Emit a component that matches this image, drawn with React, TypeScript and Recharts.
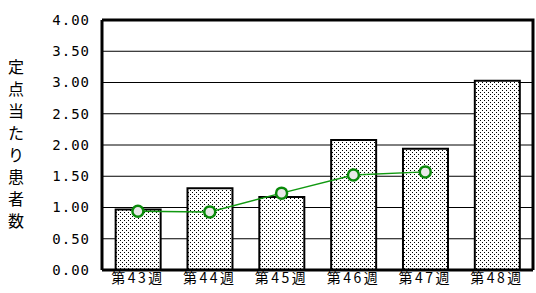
import { ComposedChart, Bar, Line, XAxis, YAxis, CartesianGrid } from 'recharts'

const weeks = ['第43週', '第44週', '第45週', '第46週', '第47週', '第48週']
const barValues = [0.97, 1.31, 1.17, 2.08, 1.94, 3.03]
const lineValues: Array<number | null> = [0.94, 0.93, 1.23, 1.52, 1.57, null]
const yTicks = [0, 0.5, 1, 1.5, 2, 2.5, 3, 3.5, 4]
const yLabel = '定点当たり患者数'

const data = weeks.map((w, i) => ({ week: w, bar: barValues[i], line: lineValues[i] }))

const tickFont = { fontFamily: '"DejaVu Sans Mono", monospace', fontSize: 14, fill: '#000', letterSpacing: 1 }
const catFont = { fontFamily: '"Noto Sans CJK JP", sans-serif', fontSize: 14, fill: '#000', letterSpacing: 2.5 }
const frame = { stroke: '#000', strokeWidth: 3 }

const W = 536
const H = 293
const M = { top: 20, right: 3, bottom: 0, left: 0 }
const Y_AXIS_W = 102
const X_AXIS_H = 23
const PLOT_W = W - M.right - Y_AXIS_W
const PLOT_H = H - M.top - X_AXIS_H

// y-axis title stacked vertically, plus the thick box round the plot area
function AxisLabelAndFrame() {
  return (
    <g>
      <path d={`M${Y_AXIS_W},${M.top}H${Y_AXIS_W + PLOT_W}V${M.top + PLOT_H}`}
        fill="none" stroke="#000" strokeWidth={3} />
      <text x={16} textAnchor="middle" fontFamily='"Noto Sans CJK JP", sans-serif' fontSize={16} fill="#000">
        {yLabel.split('').map((c, i) => (
          <tspan key={i} x={16} y={73 + i * 22}>{c}</tspan>
        ))}
      </text>
    </g>
  )
}

export default function App() {
  return (
    <div style={{ position: 'absolute', left: 0, top: 0, width: W, height: H, background: '#fff' }}>
      <ComposedChart width={W} height={H} data={data} margin={M} barCategoryGap="19%">
        <defs>
          <pattern id="dots" width="4" height="4" patternUnits="userSpaceOnUse">
            <rect width="4" height="4" fill="#fff" />
            <rect x="0" y="0" width="1" height="1" fill="#000" />
            <rect x="2" y="2" width="1" height="1" fill="#000" />
          </pattern>
        </defs>
        <CartesianGrid vertical={false} stroke="#000" strokeOpacity={1} />
        <XAxis dataKey="week" height={X_AXIS_H} tickLine={false} tickSize={2} tickMargin={1}
          axisLine={frame} tick={catFont} interval={0} />
        <YAxis width={Y_AXIS_W} domain={[0, 4]} ticks={yTicks} tickFormatter={(v: number) => v.toFixed(2)}
          tickLine={false} tickSize={6} tickMargin={6} tick={tickFont}
          axisLine={frame} label={<AxisLabelAndFrame />} />
        <Bar dataKey="bar" fill="url(#dots)" stroke="#000" strokeWidth={2} isAnimationActive={false} />
        <Line dataKey="line" stroke="#119911" strokeWidth={1.5} isAnimationActive={false}
          dot={{ r: 5.5, stroke: '#0a8a0a', strokeWidth: 2.5, fill: '#e8e8e8' }} activeDot={false} />
      </ComposedChart>
    </div>
  )
}
